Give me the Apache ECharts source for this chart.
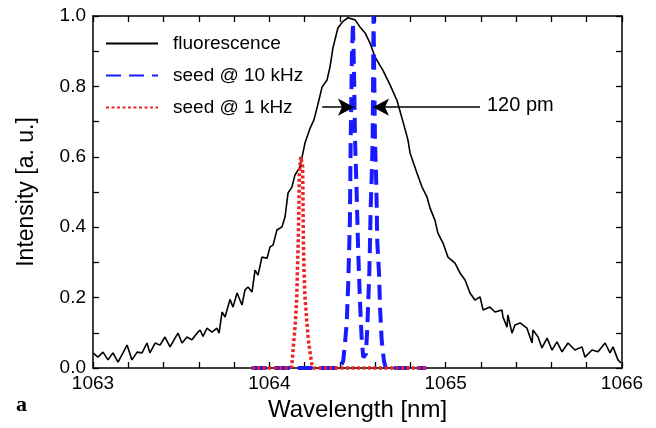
<!DOCTYPE html>
<html>
<head>
<meta charset="utf-8">
<script src="https://cdn.jsdelivr.net/npm/echarts@6.0.0/dist/echarts.min.js"></script>
<style>
    html, body {margin: 0; padding: 0; background: #fff;}
    #main {width: 656px; height: 428px;}
</style>
</head>
<body>
<div id="main"></div>
<script>
    // fluorescence spectrum
    const fluoWl = [
        1063.000, 1063.028, 1063.057, 1063.085, 1063.113, 1063.142, 1063.170, 1063.193, 1063.221, 1063.250,
        1063.278, 1063.306, 1063.323, 1063.352, 1063.380, 1063.408, 1063.437, 1063.465, 1063.482, 1063.505,
        1063.533, 1063.561, 1063.590, 1063.607, 1063.624, 1063.646, 1063.675, 1063.703, 1063.715, 1063.732,
        1063.749, 1063.777, 1063.794, 1063.817, 1063.845, 1063.862, 1063.879, 1063.902, 1063.919, 1063.936,
        1063.958, 1063.987, 1064.004, 1064.021, 1064.043, 1064.072, 1064.089, 1064.106, 1064.128, 1064.145,
        1064.174, 1064.202, 1064.230, 1064.253, 1064.276, 1064.299, 1064.327, 1064.344, 1064.361, 1064.389,
        1064.418, 1064.446, 1064.457, 1064.486, 1064.497, 1064.514, 1064.543, 1064.571, 1064.599, 1064.645,
        1064.684, 1064.724, 1064.758, 1064.786, 1064.798, 1064.837, 1064.866, 1064.894, 1064.911, 1064.939,
        1064.956, 1064.985, 1065.013, 1065.053, 1065.081, 1065.110, 1065.138, 1065.166, 1065.195, 1065.212,
        1065.251, 1065.280, 1065.319, 1065.325, 1065.348, 1065.353, 1065.376, 1065.393, 1065.422, 1065.461,
        1065.490, 1065.495, 1065.524, 1065.546, 1065.575, 1065.603, 1065.631, 1065.660, 1065.694, 1065.733,
        1065.773, 1065.790, 1065.830, 1065.864, 1065.904, 1065.932, 1065.949, 1065.977, 1065.994
    ];
    const fluoInt = [
        0.043, 0.031, 0.045, 0.023, 0.043, 0.017, 0.043, 0.065, 0.023, 0.045,
        0.043, 0.071, 0.043, 0.071, 0.065, 0.088, 0.060, 0.085, 0.099, 0.071,
        0.088, 0.080, 0.099, 0.108, 0.090, 0.113, 0.102, 0.113, 0.099, 0.159,
        0.145, 0.195, 0.173, 0.213, 0.179, 0.222, 0.230, 0.216, 0.278, 0.264,
        0.315, 0.312, 0.344, 0.349, 0.392, 0.401, 0.429, 0.497, 0.514, 0.548,
        0.571, 0.639, 0.680, 0.705, 0.750, 0.798, 0.818, 0.855, 0.910, 0.966,
        0.985, 0.995, 0.997, 0.989, 0.990, 0.969, 0.952, 0.923, 0.884, 0.845,
        0.805, 0.760, 0.700, 0.648, 0.611, 0.554, 0.514, 0.486, 0.455, 0.420,
        0.383, 0.355, 0.315, 0.298, 0.270, 0.250, 0.213, 0.193, 0.202, 0.165,
        0.173, 0.159, 0.165, 0.145, 0.116, 0.151, 0.099, 0.122, 0.128, 0.113,
        0.071, 0.108, 0.088, 0.057, 0.085, 0.051, 0.074, 0.046, 0.071, 0.051,
        0.060, 0.031, 0.051, 0.046, 0.071, 0.043, 0.060, 0.023, 0.014
    ];

    // seed @ 10 kHz (two lines, 120 pm apart)
    const seed10Wl = [
        1063.900, 1064.400, 1064.419, 1064.429, 1064.439, 1064.448, 1064.457, 1064.461, 1064.468, 1064.474,
        1064.480, 1064.486, 1064.495, 1064.504, 1064.514, 1064.524, 1064.533, 1064.548, 1064.556, 1064.561,
        1064.567, 1064.571, 1064.575, 1064.581, 1064.586, 1064.591, 1064.599, 1064.605, 1064.609, 1064.612,
        1064.622, 1064.628, 1064.637, 1064.650, 1064.660, 1064.890
    ];
    const seed10Int = [
        0, 0, 0.02, 0.07, 0.13, 0.25, 0.42, 0.63, 0.88, 0.98,
        0.85, 0.65, 0.50, 0.33, 0.19, 0.08, 0.03, 0.04, 0.12, 0.19,
        0.27, 0.36, 0.46, 0.55, 0.65, 1.0, 0.65, 0.55, 0.46, 0.36,
        0.27, 0.17, 0.08, 0.02, 0, 0
    ];

    // seed @ 1 kHz
    const seed1Wl = [
        1063.900, 1064.115, 1064.127, 1064.136, 1064.146, 1064.155, 1064.159, 1064.164, 1064.168, 1064.170,
        1064.178, 1064.189, 1064.193, 1064.197, 1064.202, 1064.212, 1064.221, 1064.240, 1064.252, 1064.890
    ];
    const seed1Int = [
        0, 0, 0.004, 0.06, 0.117, 0.193, 0.269, 0.364, 0.458, 0.553,
        0.60, 0.572, 0.364, 0.269, 0.203, 0.136, 0.08, 0.013, 0, 0
    ];

    const xTicks = [1063, 1064, 1065, 1066];
    const yTicks = [0.0, 0.2, 0.4, 0.6, 0.8, 1.0];

    const zip = (a, b) => a.map((v, i) => [v, b[i]]);

    const font = 'Liberation Sans, Arial, sans-serif';
    const myChart = echarts.init(document.getElementById('main'));

    const axisCommon = {
        axisLine: {show: true, onZero: false, lineStyle: {color: '#000', width: 1.5}},
        axisTick: {show: true, inside: true, length: 6, lineStyle: {color: '#000', width: 1.3}},
        minorTick: {show: true, length: 6, lineStyle: {color: '#000', width: 1.3}},
        splitLine: {show: false}
    };

    myChart.setOption({
        animation: false,
        backgroundColor: '#fff',
        grid: {left: 93, top: 16, right: 34, bottom: 60},
        legend: {
            orient: 'vertical',
            left: 100,
            top: 29,
            itemWidth: 52,
            itemHeight: 14,
            itemGap: 13,
            itemStyle: {opacity: 0},
            textStyle: {fontFamily: font, fontSize: 19, color: '#000', padding: [0, 0, 0, 10]},
            data: ['fluorescence', 'seed @ 10 kHz', 'seed @ 1 kHz']
        },
        xAxis: [{
            type: 'value',
            min: xTicks[0],
            max: xTicks[xTicks.length - 1],
            interval: 1,
            name: 'Wavelength [nm]',
            nameLocation: 'middle',
            nameGap: 30,
            nameTextStyle: {fontFamily: font, fontSize: 24, color: '#000'},
            axisLabel: {fontFamily: font, fontSize: 19, color: '#000', margin: 6, formatter: v => String(v)},
            minorTick: Object.assign({}, axisCommon.minorTick, {splitNumber: 5}),
            axisLine: axisCommon.axisLine,
            axisTick: axisCommon.axisTick,
            splitLine: axisCommon.splitLine
        }, {
            type: 'value',
            position: 'top',
            min: xTicks[0],
            max: xTicks[xTicks.length - 1],
            interval: 1,
            axisLabel: {show: false},
            minorTick: Object.assign({}, axisCommon.minorTick, {splitNumber: 5}),
            axisLine: axisCommon.axisLine,
            axisTick: axisCommon.axisTick,
            splitLine: axisCommon.splitLine
        }],
        yAxis: [{
            type: 'value',
            min: yTicks[0],
            max: yTicks[yTicks.length - 1],
            interval: 0.2,
            name: 'Intensity [a. u.]',
            nameLocation: 'middle',
            nameGap: 55,
            nameTextStyle: {fontFamily: font, fontSize: 23, color: '#000'},
            axisLabel: {
                fontFamily: font, fontSize: 19, color: '#000', margin: 7,
                formatter: v => v.toFixed(1)
            },
            minorTick: Object.assign({}, axisCommon.minorTick, {splitNumber: 2}),
            axisLine: axisCommon.axisLine,
            axisTick: axisCommon.axisTick,
            splitLine: axisCommon.splitLine
        }, {
            type: 'value',
            position: 'right',
            min: yTicks[0],
            max: yTicks[yTicks.length - 1],
            interval: 0.2,
            axisLabel: {show: false},
            minorTick: Object.assign({}, axisCommon.minorTick, {splitNumber: 2}),
            axisLine: axisCommon.axisLine,
            axisTick: axisCommon.axisTick,
            splitLine: axisCommon.splitLine
        }],
        graphic: [{
            type: 'text',
            left: 487,
            top: 95,
            style: {text: '120 pm', fill: '#000', fontSize: 20, fontFamily: font}
        }, {
            type: 'text',
            left: 16,
            top: 394,
            style: {text: 'a', fill: '#000', fontSize: 22, fontWeight: 'bold', fontFamily: 'Liberation Serif, serif'}
        }],
        series: [{
            name: 'fluorescence',
            type: 'line',
            symbol: 'none',
            data: zip(fluoWl, fluoInt),
            lineStyle: {color: '#000', width: 1.6},
            itemStyle: {color: '#000'},
            z: 2,
            markLine: {
                silent: true,
                symbol: ['none', 'arrow'],
                symbolSize: [13, 16],
                lineStyle: {color: '#000', width: 1.5, type: 'solid'},
                label: {show: false},
                data: [
                    [{coord: [1064.30, 0.741]}, {coord: [1064.48, 0.741]}],
                    [{coord: [1065.195, 0.741]}, {coord: [1064.588, 0.741]}]
                ]
            }
        }, {
            name: 'seed @ 10 kHz',
            type: 'line',
            symbol: 'none',
            clip: false,
            data: zip(seed10Wl, seed10Int),
            lineStyle: {color: '#1a1aff', width: 4, type: [15, 8]},
            itemStyle: {color: '#1a1aff'},
            z: 3
        }, {
            name: 'seed @ 1 kHz',
            type: 'line',
            symbol: 'none',
            clip: false,
            data: zip(seed1Wl, seed1Int),
            lineStyle: {color: '#ee2222', width: 3.5, type: [3, 2.5]},
            itemStyle: {color: '#ee2222'},
            z: 4
        }]
    });
</script>
</body>
</html>
